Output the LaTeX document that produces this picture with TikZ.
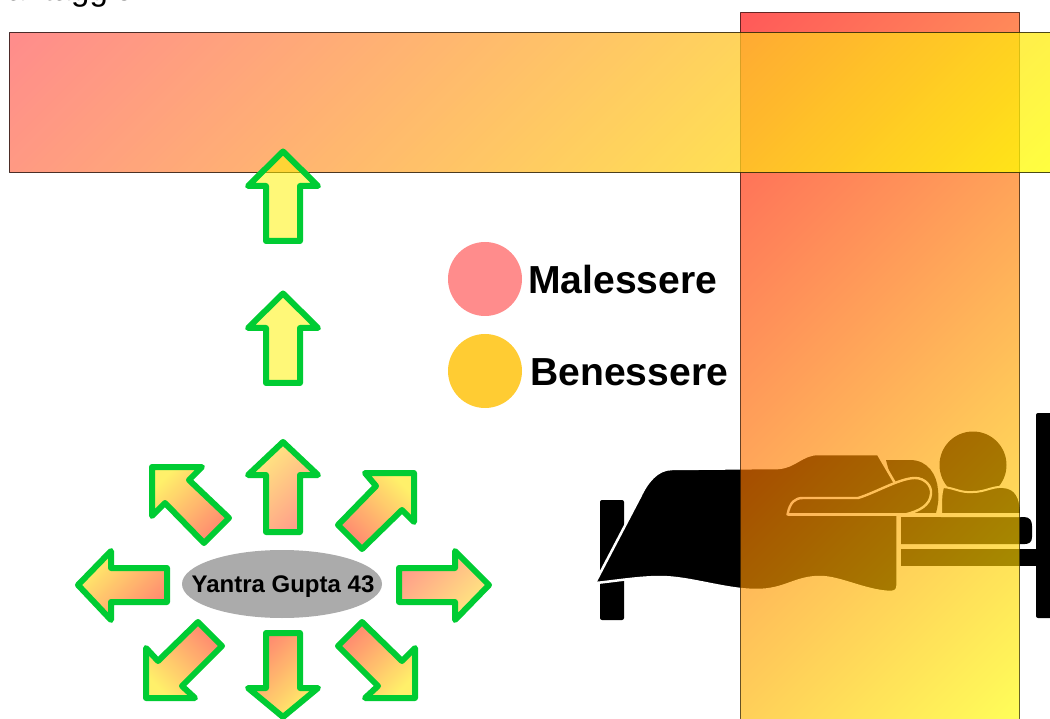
\documentclass[tikz,border=0pt]{standalone}
\usepackage{fontspec}
\usetikzlibrary{shapes.geometric}
\setmainfont{Liberation Sans}
\definecolor{grn}{HTML}{00CC33}
\definecolor{arrowred}{HTML}{FF8870}
\definecolor{arrowyel}{HTML}{FFF06A}
\definecolor{paleyel}{HTML}{FFEA80}
\definecolor{palered}{HTML}{FF9C8A}
\definecolor{pinkdot}{HTML}{FF8C8C}
\definecolor{golddot}{HTML}{FFCC33}
\definecolor{hstart}{HTML}{FF6666}
\tikzset{
  garrow/.style={draw=grn,line width=6pt,line join=round},
  ytl/.style={left color=arrowyel,right color=arrowred,shading angle=45},
  rtl/.style={left color=arrowred,right color=arrowyel,shading angle=45},
  ybl/.style={left color=arrowred,right color=arrowyel,shading angle=-45},
  ytr/.style={left color=arrowyel,right color=arrowred,shading angle=-45},
  bedpart/.style={fill=black,draw=none},
  bedline/.style={draw=white,line width=2.4pt,line join=round},
  dot/.style={circle,minimum size=74pt,inner sep=0pt,draw=none},
  legendtxt/.style={font=\fontsize{39.1}{39.1}\selectfont\bfseries,anchor=base west,inner sep=0pt}
}
\begin{document}
\begin{tikzpicture}[x=1pt,y=-1pt]
\useasboundingbox (0,0) rectangle (1050,719);
\clip (0,0) rectangle (1050,719);
\fill[white] (0,0) rectangle (1050,719);
\node[font=\fontsize{33}{33}\selectfont,anchor=base west,inner sep=0pt] (topword) at (-9.7,0.1) {vantaggio};

% bed
\fill[bedpart,rounded corners=2pt] (600,500) rectangle (624,620);
\fill[bedpart,rounded corners=2pt] (1036,413) rectangle (1060,618);
\fill[bedpart] (901,549) rectangle (1040,566);
\fill[bedpart] (901,517) -- (1024,517) .. controls (1030,517) and (1032,521) .. (1032,526) -- (1032,537) .. controls (1032,542) and (1029,544) .. (1025,544) -- (901,544) -- cycle;
\fill[bedpart] (973,465) circle (33.5);
\filldraw[bedpart,draw=white,line width=2pt,line join=round] (941,516) .. controls (941,500) and (941,494) .. (943,487)
  .. controls (955,488) and (960,493) .. (973,492) .. controls (985,492) and (993,486) .. (1003,487)
  .. controls (1016,488) and (1021,497) .. (1021,516) -- cycle;
\fill[bedpart] (886,460) -- (910,460) .. controls (928,460) and (937,475) .. (938,490) .. controls (939,500) and (938,505) .. (936,513) -- (900,513) -- cycle;
\filldraw[bedpart,draw=white,line width=2.5pt,line join=round]
  (596,581) -- (640,497) .. controls (647,482) and (657,469) .. (672,469)
  -- (778,468) .. controls (795,467) and (802,454) .. (818,454)
  -- (878,454) -- (899,490) -- (897.5,513) -- (897.5,586)
  .. controls (897.5,590) and (895,592) .. (890,592)
  .. controls (865,591) and (840,577) .. (820,577)
  .. controls (795,577) and (785,590) .. (757,590)
  .. controls (725,590) and (690,577) .. (660,577)
  .. controls (640,577) and (615,581) .. (596,583) -- cycle;
\path[bedline,fill=black] (787.5,514.5) .. controls (790,502) and (795,498) .. (803,498)
  -- (858,498) .. controls (875,493) and (900,478) .. (915,478)
  .. controls (925,478) and (932,486) .. (931,494)
  .. controls (930,505) and (920,511) .. (905,514.5) -- cycle;
\path[bedline] (787.5,514.5) -- (1022,514.5);
\path[draw=white,line width=2pt] (900,546.5) -- (1032,546.5);

% vertical bar
\begin{scope}
  \clip (740.3,12.5) rectangle (1019.5,719.5);
  \begin{scope}[transform canvas={rotate around={-45:(879.9,366)}}]
    \shade[left color=red,right color=yellow,fill opacity=.65] (531.2,17.3) rectangle (1228.6,714.7);
  \end{scope}
\end{scope}
\draw[black,draw opacity=.6,line width=1pt] (740.3,12.5) rectangle (1019.5,719.5);
% horizontal bar
\begin{scope}
  \clip (9.5,32.5) rectangle (1050,172.5);
  \begin{scope}[transform canvas={rotate around={-45:(529.75,102.5)}}]
    \shade[left color=hstart,right color=yellow,fill opacity=.75] (112.35,-314.9) rectangle (947.15,519.9);
  \end{scope}
\end{scope}
\draw[black,draw opacity=.7,line width=1pt] (9.5,32.5) rectangle (1055,172.5);

% legend
\node[dot,fill=pinkdot] (mal) at (485,279) {};
\node[dot,fill=golddot] (ben) at (485,371) {};
\node[legendtxt] (mallab) at (528,294) {Malessere};
\node[legendtxt] (benlab) at (530,385) {Benessere};

% centre
\node[ellipse,fill=black!33,minimum width=200pt,minimum height=68pt,inner sep=0pt] (yg) at (282,584) {};
\node[font=\fontsize{24}{24}\selectfont\bfseries,inner sep=0pt] (ygt) at (283,587) {Yantra Gupta 43};

% yellow arrows
\path[garrow,fill=yellow,fill opacity=.53,draw opacity=1] (283,151.5) -- (318,186) -- (300,186) -- (300,241) -- (266,241) -- (266,186) -- (248,186) -- cycle;
\path[garrow,fill=yellow,fill opacity=.53,draw opacity=1] (283,293.5) -- (318,328) -- (300,328) -- (300,383) -- (266,383) -- (266,328) -- (248,328) -- cycle;

% ring of arrows
\path[garrow,left color=paleyel,right color=palered,shading angle=45] (283,442) -- (318,475) -- (300,475) -- (300,532) -- (266,532) -- (266,475) -- (248,475) -- cycle;
\path[garrow,rtl] (283,717) -- (318,688) -- (300,688) -- (300,633) -- (266,633) -- (266,688) -- (248,688) -- cycle;
\path[garrow,ytl] (78,585) -- (111,551) -- (111,568) -- (167,568) -- (167,602) -- (111,602) -- (111,620) -- cycle;
\path[garrow,left color=palered,right color=paleyel,shading angle=45] (489,585) -- (455,551) -- (455,568) -- (399,568) -- (399,602) -- (455,602) -- (455,620) -- cycle;
\path[garrow,ytr] (414,473) -- (365,473) -- (376,486) -- (338,525) -- (362,549) -- (402,510) -- (414,522) -- cycle;
\path[garrow,ytl] (152,467) -- (202,467) -- (189,480) -- (229,518) -- (204,543) -- (165,503) -- (152,516) -- cycle;
\path[garrow,ybl] (146,698) -- (195,698) -- (182,686) -- (222,646) -- (198,622) -- (158,661) -- (146,648) -- cycle;
\path[garrow,rtl] (415,698) -- (365,698) -- (378,686) -- (338,646) -- (362,622) -- (402,661) -- (415,648) -- cycle;
\end{tikzpicture}
\end{document}
